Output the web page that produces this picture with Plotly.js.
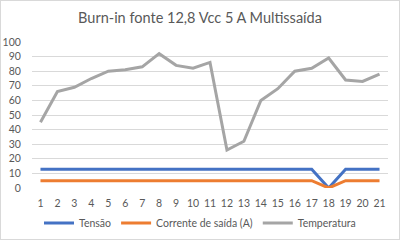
<!DOCTYPE html>
<html><head><meta charset="utf-8">
<script src="https://cdn.plot.ly/plotly-3.0.1.min.js"></script>
<style>
html,body{margin:0;padding:0;background:#fff;}
#c{width:400px;height:240px;box-sizing:border-box;border:1px solid #d9d9d9;}
</style></head><body>
<div id="c"></div>
<script>
const categories = [1,2,3,4,5,6,7,8,9,10,11,12,13,14,15,16,17,18,19,20,21];
const tensao = [12.8,12.8,12.8,12.8,12.8,12.8,12.8,12.8,12.8,12.8,12.8,12.8,12.8,12.8,12.8,12.8,12.8,0,12.8,12.8,12.8];
const corrente = [5,5,5,5,5,5,5,5,5,5,5,5,5,5,5,5,5,0,5,5,5];
const temperatura = [45,66,69,75,80,81,83,92,84,82,86,26,32,60,68,80,82,89,74,73,78];
const yTicks = [0,10,20,30,40,50,60,70,80,90,100];

const lw = 3;
const fam = 'Lato, Open Sans, sans-serif';
const traces = [
  {x: categories, y: tensao, name: 'Tensão', type: 'scatter', mode: 'lines', line: {color: '#4472C4', width: lw}},
  {x: categories, y: corrente, name: 'Corrente de saída (A)', type: 'scatter', mode: 'lines', line: {color: '#ED7D31', width: lw}},
  {x: categories, y: temperatura, name: 'Temperatura', type: 'scatter', mode: 'lines', line: {color: '#A5A5A5', width: lw}}
];
const layout = {
  width: 398, height: 238,
  margin: {l: 31, r: 11, t: 41, b: 51},
  paper_bgcolor: '#fff', plot_bgcolor: '#fff',
  font: {family: fam, color: '#595959', size: 10.5},
  title: {text: 'Burn-in fonte 12,8 Vcc 5 A Multissaída', x: 0.5, xanchor: 'center', y: 0.93, yanchor: 'middle',
          font: {family: fam, size: 14.5, color: '#595959'}},
  xaxis: {type: 'linear', range: [0.5, 21.5], tickvals: categories, ticktext: categories.map(String),
          showgrid: false, zeroline: false, showline: false, ticks: 'outside', ticklen: 5, tickcolor: 'rgba(0,0,0,0)',
          fixedrange: true, automargin: false, tickfont: {family: fam, size: 10.5, color: '#595959'}},
  yaxis: {range: [0, 100], tickvals: yTicks, showgrid: true, gridcolor: '#d9d9d9', gridwidth: 1,
          zeroline: false, showline: false, ticks: 'outside', ticklen: 8, tickcolor: 'rgba(0,0,0,0)',
          automargin: false, tickfont: {family: fam, size: 10.5, color: '#595959'}, fixedrange: true},
  showlegend: true,
  legend: {orientation: 'h', x: 0.5, xanchor: 'center', xref: 'container', yref: 'container', y: 0.067, yanchor: 'middle',
           font: {family: fam, size: 10.5, color: '#595959'}, itemwidth: 30},
};
Plotly.newPlot('c', traces, layout, {displayModeBar: false, staticPlot: true});
</script></body></html>
